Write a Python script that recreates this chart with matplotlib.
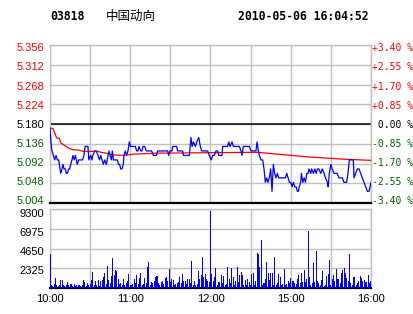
import matplotlib
matplotlib.use('Agg')
import matplotlib.pyplot as plt
from matplotlib.transforms import ScaledTranslation

# ---------------- data ----------------
code = '03818'
name = '中国动向'
stamp = '2010-05-06 16:04:52'
prev_close = 5.180
price_ticks = [5.004, 5.048, 5.092, 5.136, 5.180, 5.224, 5.268, 5.312, 5.356]
price_labels = ['5.004', '5.048', '5.092', '5.136', '5.180', '5.224', '5.268', '5.312', '5.356']
pct_labels = ['-3.40 %', '-2.55 %', '-1.70 %', '-0.85 %', ' 0.00 %',
              '+0.85 %', '+1.70 %', '+2.55 %', '+3.40 %']
vol_ticks = [2325, 4650, 6975, 9300]
vol_labels = ['2325', '4650', '6975', '9300']
time_ticks = [0, 60, 120, 180, 240]
time_labels = ['10:00', '11:00', '12:00', '15:00', '16:00']
grid_minutes = [30, 90, 150, 210]

price_t = [0, 1, 1.5, 2.5, 3.5, 4.5, 5.5, 6.5, 8, 9, 9.7, 10.5, 11.5, 12.2, 13, 14, 14.7, 15.5,
           16.4, 17.2, 18, 19, 19.7, 20.4, 21.4, 22.2, 23.4, 24.4, 25.4, 26.2, 28.4, 29, 30.4,
           31.4, 32, 33.4, 34.6, 35.9, 37, 37.9, 38.9, 39.9, 40.9, 42.1, 43.4, 44.1, 44.9, 45.9,
           46.6, 47.4, 50.3, 51.3, 52.1, 52.8, 53.8, 54.8, 55.3, 56.3, 57.3, 58.3, 59.3, 60.3,
           63.8, 64.8, 65.8, 66.5, 67.8, 68.8, 69.5, 70.8, 72, 76, 77.3, 79.5, 80.5, 88, 88.7,
           89.7, 91.2, 91.7, 94.7, 95.4, 99.2, 99.7, 104.2, 105.4, 106.2, 107.2, 108.7, 109.7,
           111.2, 112.4, 113.4, 117.9, 119.1, 120.6, 121.6, 122.9, 124.1, 125.4, 126.1, 128.6,
           129.1, 132.8, 133.6, 134.6, 136.1, 137.1, 141.6, 142.8, 143.6, 144.5, 149, 150.3,
           154, 154.8, 155.8, 156.5, 157.8, 159, 160, 161, 162, 163, 164, 165, 166, 167, 168,
           169, 170, 171, 176, 177, 178, 179, 180, 181, 182, 183, 184, 185, 185.7, 186.4, 187.4,
           188, 189, 190, 191, 192, 193, 193.6, 195, 195.6, 197, 198, 199, 200, 201, 202.4,
           203.6, 204.9, 206, 207.4, 208, 208.8, 210, 211, 212.3, 214.8, 216, 218.6, 219.8,
           221.8, 222.8, 223.8, 226.8, 227.3, 228.5, 229.8, 231, 232.3, 233.5, 234.8, 236,
           237.3, 238.5, 239.3, 240]
price_v = [5.17, 5.13, 5.12, 5.11, 5.10, 5.11, 5.10, 5.10, 5.07, 5.08, 5.09, 5.08, 5.08, 5.07,
           5.07, 5.08, 5.08, 5.09, 5.10, 5.11, 5.10, 5.11, 5.10, 5.09, 5.10, 5.10, 5.10, 5.10,
           5.11, 5.13, 5.13, 5.10, 5.11, 5.10, 5.11, 5.12, 5.12, 5.11, 5.10, 5.11, 5.10, 5.09,
           5.10, 5.09, 5.11, 5.12, 5.11, 5.10, 5.12, 5.10, 5.10, 5.09, 5.09, 5.08, 5.08, 5.09,
           5.11, 5.12, 5.11, 5.12, 5.14, 5.13, 5.13, 5.12, 5.12, 5.13, 5.12, 5.12, 5.13, 5.13,
           5.12, 5.12, 5.11, 5.11, 5.12, 5.12, 5.11, 5.12, 5.12, 5.13, 5.13, 5.12, 5.12, 5.11,
           5.11, 5.15, 5.13, 5.14, 5.13, 5.14, 5.15, 5.13, 5.12, 5.12, 5.11, 5.10, 5.11, 5.11,
           5.12, 5.12, 5.11, 5.11, 5.13, 5.13, 5.14, 5.13, 5.14, 5.13, 5.13, 5.12, 5.11, 5.13,
           5.13, 5.12, 5.12, 5.14, 5.12, 5.11, 5.10, 5.10, 5.08, 5.05, 5.06, 5.05, 5.06, 5.08,
           5.03, 5.09, 5.07, 5.06, 5.07, 5.06, 5.06, 5.07, 5.06, 5.05, 5.05, 5.04, 5.05, 5.04,
           5.04, 5.03, 5.03, 5.04, 5.05, 5.07, 5.05, 5.06, 5.05, 5.07, 5.07, 5.08, 5.07, 5.08,
           5.07, 5.08, 5.07, 5.08, 5.08, 5.07, 5.08, 5.07, 5.06, 5.05, 5.04, 5.07, 5.09, 5.08,
           5.07, 5.07, 5.06, 5.06, 5.05, 5.05, 5.07, 5.10, 5.10, 5.06, 5.07, 5.08, 5.08, 5.07,
           5.06, 5.05, 5.04, 5.03, 5.03, 5.04, 5.05]

avg_t = [0, 2, 3, 5, 7, 8, 10, 12, 14, 17, 21, 25, 36, 38, 42, 48, 56, 63, 80, 155, 162, 177,
         192, 217, 240]
avg_v = [5.171, 5.170, 5.164, 5.149, 5.148, 5.138, 5.134, 5.130, 5.126, 5.123, 5.122, 5.119,
         5.119, 5.117, 5.115, 5.111, 5.110, 5.113, 5.115, 5.117, 5.115, 5.111, 5.107, 5.102,
         5.099]

volume = [
    4040,
    390, 270, 470, 1180, 310, 270, 390, 980, 980, 310,
    270, 390, 710, 310, 470, 470, 270, 470, 240, 390,
    310, 390, 240, 310, 940, 710, 270, 590, 310, 470,
    940, 1880, 310, 860, 390, 940, 270, 860, 980, 1260,
    1770, 470, 2630, 980, 550, 1370, 3530, 1570, 2160, 2040,
    1100, 470, 550, 310, 1100, 310, 550, 860, 1650, 390,
    310, 470, 1100, 630, 1570, 470, 1180, 1770, 310, 470,
    1180, 590, 2510, 3060, 390, 710, 550, 860, 1260, 1370,
    550, 390, 710, 780, 470, 1180, 1260, 780, 2280, 710,
    1100, 980, 310, 470, 590, 710, 1330, 550, 1650, 780,
    860, 470, 1100, 1100, 590, 3220, 310, 860, 310, 470,
    2040, 1100, 1570, 3690, 1330, 1690, 1100, 860, 710,
    9100,
    1650, 780, 1260, 2350, 390, 710, 710, 1490, 550, 1370,
    390, 470, 2510, 1100, 590, 2350, 1260, 310, 780, 2510,
    710, 1570, 1880, 1490, 390, 940, 310, 1100, 710, 310,
    1650, 1770, 390, 860, 4120, 4000, 2510, 5690, 390, 550,
    1100, 3060, 1770, 980, 1770, 1770, 310, 3650, 310, 550,
    1650, 1330, 310, 470, 2280, 310, 470, 860, 550, 1180,
    860, 780, 590, 470, 1100, 1570, 630, 1770, 710, 2160,
    710, 1100, 6750, 1330, 390, 590, 2900, 710, 4320, 780,
    630, 310, 980, 1960, 240, 390, 1370, 1690, 3340, 310,
    1100, 1570, 780, 2280, 1100, 1100, 550, 1770, 2120, 2350,
    1770, 1180, 860, 4040, 590, 310, 1260, 1260, 310, 550,
    860, 1370, 1180, 860, 980, 710, 710, 1570, 590, 780,
]
minutes = list(range(len(volume)))

# ---------------- styling ----------------
W, H = 414, 314
GRID = '#c0c0c0'
RED = '#ff0000'
GREEN = '#006400'
BLUE = '#0000ff'
SANS = ['Liberation Sans', 'DejaVu Sans']
MONO = ['DejaVu Sans Mono']

fig = plt.figure(figsize=(W / 100, H / 100), dpi=100)
fig.patch.set_facecolor('white')

ax_p = fig.add_axes([50 / W, 1 - 203 / H, 321 / W, 158 / H])
ax_v = fig.add_axes([50 / W, 1 - 288 / H, 321 / W, 79 / H])


def shift(px):
    return ScaledTranslation(0, -px / 100, fig.dpi_scale_trans)


# label vertical offsets (px, downward), bottom tick first
price_lab_shift = [-3.0, -2.3, -1.6, -0.9, -0.2, 0.5, 1.1, 1.7, 2.3]
vol_lab_shift = [1.7, 2.7, 3.2, 4.0]

# ---- price panel ----
ax_p.set_xlim(0, 240)
ax_p.set_ylim(price_ticks[0], price_ticks[-1])
ax_p.set_xticks(time_ticks + grid_minutes)
ax_p.set_xticklabels([])
ax_p.set_yticks(price_ticks)
ax_p.set_yticklabels(price_labels, fontsize=8, family=SANS)
ax_p.tick_params(length=0, pad=4)
ax_p.grid(True, color=GRID, linewidth=1, zorder=0)
ax_p.set_axisbelow(True)
for i, lab in enumerate(ax_p.get_yticklabels()):
    v = price_ticks[i]
    lab.set_color('black' if abs(v - prev_close) < 1e-9 else (RED if v > prev_close else GREEN))
    lab.set_transform(lab.get_transform() + shift(price_lab_shift[i]))
for s in ['left', 'right', 'top']:
    ax_p.spines[s].set_color(GRID)
    ax_p.spines[s].set_linewidth(1)
ax_p.spines['bottom'].set_color('black')
ax_p.spines['bottom'].set_linewidth(1.6)
ax_p.axhline(prev_close, color='black', linewidth=1.1, zorder=2)

ax_p.plot(avg_t, avg_v, color=RED, linewidth=0.9, zorder=3)
ax_p.plot(price_t, price_v, color=BLUE, linewidth=0.9, zorder=4)

ax_r = ax_p.twinx()
ax_r.set_ylim(price_ticks[0], price_ticks[-1])
ax_r.set_yticks(price_ticks)
ax_r.set_yticklabels(pct_labels, fontsize=7, family=MONO)
ax_r.tick_params(length=0, pad=1)
for s in ax_r.spines.values():
    s.set_visible(False)
for i, lab in enumerate(ax_r.get_yticklabels()):
    v = price_ticks[i]
    lab.set_color('black' if abs(v - prev_close) < 1e-9 else (RED if v > prev_close else GREEN))
    lab.set_transform(lab.get_transform() + shift(price_lab_shift[i]))

# ---- volume panel ----
ax_v.bar(minutes, volume, width=0.75, color=BLUE, linewidth=0, zorder=3, antialiased=False)
ax_v.set_xlim(0, 240)
ax_v.set_ylim(0, vol_ticks[-1])
ax_v.set_yticks(vol_ticks)
ax_v.set_yticklabels(vol_labels, fontsize=8, family=SANS)
ax_v.set_xticks(time_ticks)
ax_v.set_xticklabels(time_labels, fontsize=8, family=SANS)
ax_v.set_xticks(grid_minutes, minor=True)
ax_v.tick_params(which='both', length=0)
ax_v.tick_params(axis='y', pad=4)
ax_v.tick_params(axis='x', pad=4)
ax_v.grid(True, which='both', color=GRID, linewidth=1, zorder=0)
ax_v.set_axisbelow(True)
for i, lab in enumerate(ax_v.get_yticklabels()):
    lab.set_transform(lab.get_transform() + shift(vol_lab_shift[i]))
for s in ['left', 'right', 'top']:
    ax_v.spines[s].set_color(GRID)
    ax_v.spines[s].set_linewidth(1)
ax_v.spines['bottom'].set_color('black')
ax_v.spines['bottom'].set_linewidth(1.6)

# ---- header ----
fig.text(50 / W, 1 - 16 / H, code, family=MONO, weight='bold', fontsize=8.3, va='center')
fig.text(106 / W, 1 - 16 / H, name, family=['Noto Sans CJK SC', 'DejaVu Sans'],
         fontsize=9, va='center')
fig.text(238 / W, 1 - 16 / H, stamp, family=MONO, weight='bold', fontsize=8.3, va='center')

fig.savefig('out.png', dpi=100, facecolor='white')
